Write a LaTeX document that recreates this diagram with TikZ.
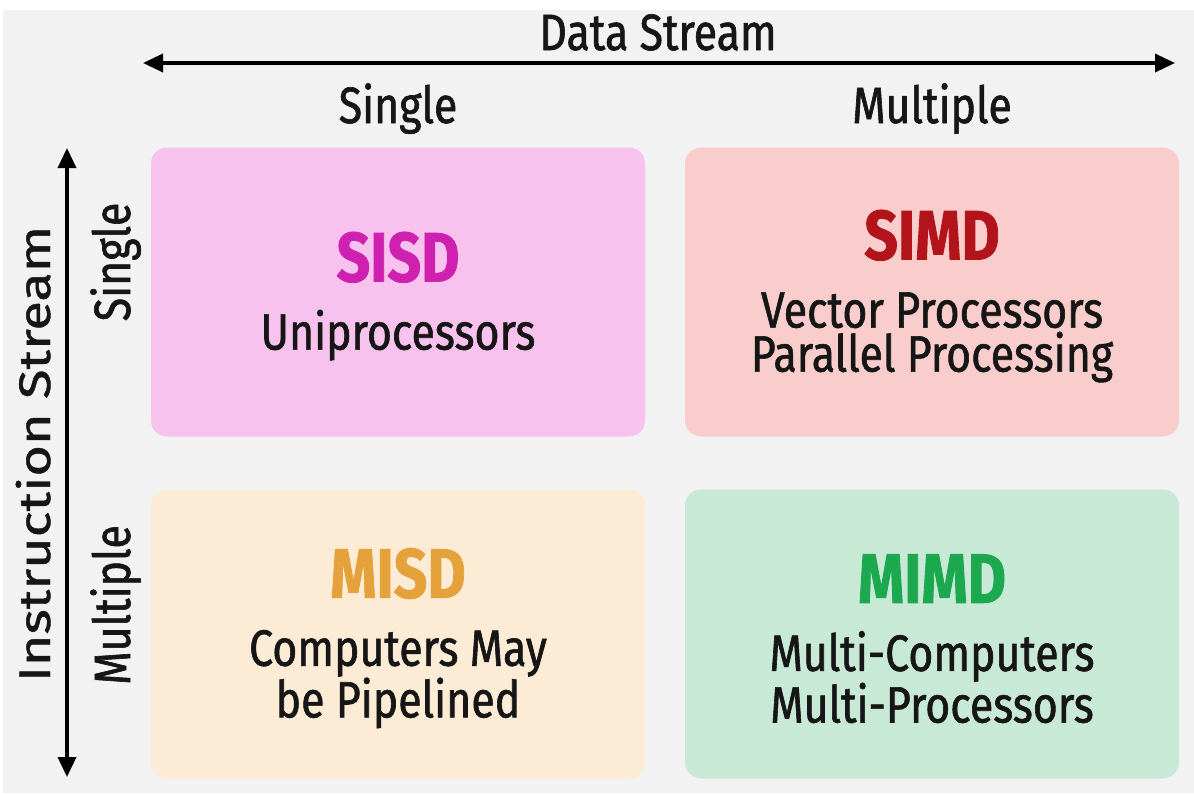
\documentclass[tikz,border=0pt]{standalone}
\usepackage{fontspec}
\setmainfont{Fira Sans}[FakeStretch=0.84, FakeBold=1.2]
\newfontfamily\widefont{Fira Sans}[FakeStretch=1.23, FakeBold=1.0]
\usetikzlibrary{arrows.meta}

\definecolor{panelgray}{HTML}{F2F2F2}
\definecolor{inkblack}{HTML}{161616}
\definecolor{sisdfill}{HTML}{F8C2EE}
\definecolor{sisdtitle}{HTML}{D020B0}
\definecolor{simdfill}{HTML}{FACDCD}
\definecolor{simdtitle}{HTML}{B3141C}
\definecolor{misdfill}{HTML}{FCEBD5}
\definecolor{misdtitle}{HTML}{E5A23B}
\definecolor{mimdfill}{HTML}{C8E9D5}
\definecolor{mimdtitle}{HTML}{1BA84E}

\tikzset{
    axisarrow/.style={line width=3.5pt, {Triangle[length=20pt,width=18pt]}-{Triangle[length=20pt,width=18pt]}},
    axislabel/.style={font=\fontsize{51}{40}\selectfont, text=inkblack, inner sep=0pt},
    quadrant/.style={rounded corners=16pt, minimum width=494pt, minimum height=289pt,
        align=center, inner sep=0pt, font=\fontsize{51}{44}\selectfont, text=inkblack}
}
\newcommand{\quadtitle}[2]{\rule{0pt}{58pt}\textcolor{#1}{\fontsize{70}{70}\selectfont\bfseries #2}}

\begin{document}
\begin{tikzpicture}[x=1pt, y=-1pt]
        \useasboundingbox (0,0) rectangle (1194,793);
        % Background panel
        \fill[white] (0,0) rectangle (1194,793);
        \fill[panelgray] (3,10) rectangle (1194,793);

        % Data stream axis
        \coordinate (dsleft) at (143,63);
        \coordinate (dsright) at (1175,63);
        \draw[axisarrow] (dsleft) -- (dsright);
        \node[axislabel, anchor=base] (dslabel) at (658,50) {Data Stream};
        \node[axislabel, anchor=base] (colsingle) at (398,123) {Single};
        \node[axislabel, anchor=base] (colmultiple) at (932,123) {Multiple};

        % Instruction stream axis
        \coordinate (istop) at (67,148);
        \coordinate (isbottom) at (67,777);
        \draw[axisarrow] (istop) -- (isbottom);
        \node[axislabel, font=\widefont\fontsize{44}{44}\selectfont, anchor=base, rotate=90] (islabel) at (50,454) {Instruction Stream};
        \node[axislabel, anchor=base, rotate=90] (rowsingle) at (130,262) {Single};
        \node[axislabel, anchor=base, rotate=90] (rowmultiple) at (130,605) {Multiple};

        % The four classes
        \node[quadrant, fill=sisdfill] (sisd) at (398,292)
            {\quadtitle{sisdtitle}{SISD}\\[24pt]Uniprocessors};
        \node[quadrant, fill=simdfill] (simd) at (932,292)
            {\quadtitle{simdtitle}{SIMD}\\[24pt]Vector Processors\\Parallel Processing};
        \node[quadrant, fill=misdfill] (misd) at (398,634)
            {\quadtitle{misdtitle}{MISD}\\[24pt]Computers May\\be Pipelined};
        \node[quadrant, fill=mimdfill] (mimd) at (932,634)
            {\quadtitle{mimdtitle}{MIMD}\\[24pt]Multi-Computers\\Multi-Processors};
\end{tikzpicture}
\end{document}
